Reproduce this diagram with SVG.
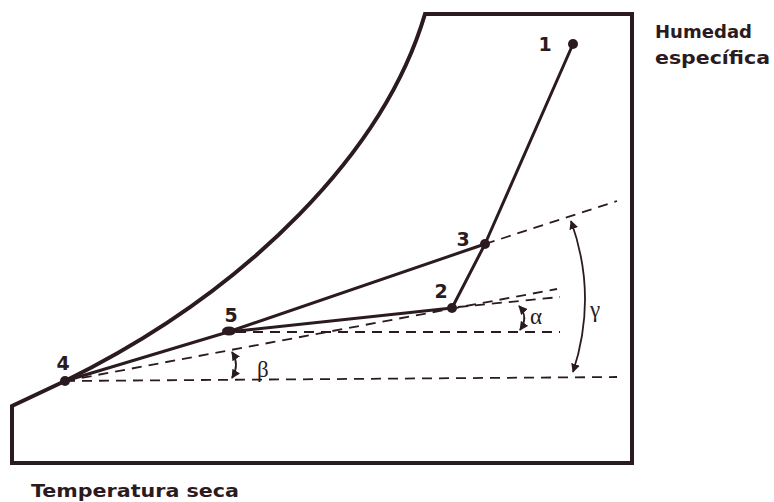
<svg xmlns="http://www.w3.org/2000/svg" width="774" height="502" viewBox="0 0 774 502">
<style>
.frame{fill:none;stroke:#2b1b20;stroke-width:4;stroke-linejoin:miter}
.line{fill:none;stroke:#2b1b20;stroke-width:3;stroke-linecap:round}
.dash{fill:none;stroke:#2b1b20;stroke-width:1.8;stroke-dasharray:10 7}
.arc{fill:none;stroke:#2b1b20;stroke-width:1.8}
.dot{fill:#2b1b20}
.num{font-family:"DejaVu Sans","Liberation Sans",sans-serif;font-weight:bold;font-size:19px;fill:#2b1b20;text-anchor:middle}
.lbl{font-family:"DejaVu Sans","Liberation Sans",sans-serif;font-weight:bold;font-size:18px;fill:#2b1b20}
.greek{font-family:"Liberation Serif","DejaVu Serif",serif;font-size:23px;fill:#2b1b20}
</style>
<defs>
<marker id="ah" viewBox="0 0 10 10" refX="9" refY="5" markerWidth="9" markerHeight="9" markerUnits="userSpaceOnUse" orient="auto-start-reverse">
<path d="M0,0 L10,5 L0,10 Z" fill="#2b1b20"/>
</marker>
</defs>
<g id="chart-frame">
<path class="frame" d="M65,381 L12,406 L12,463 L632,463 L632,14 L425,14 C385,150 250,290 65,381"/>
</g>
<g id="connectors">
<line class="line" x1="65" y1="381" x2="228" y2="332"/>
<line class="line" x1="228" y1="332" x2="485" y2="244"/>
<line class="line" x1="228" y1="332" x2="452" y2="308"/>
<line class="line" x1="452" y1="308" x2="485" y2="244"/>
<line class="line" x1="485" y1="244" x2="573" y2="44"/>
<line class="dash" x1="485" y1="244" x2="617" y2="201"/>
<line class="dash" x1="65" y1="381" x2="617" y2="377"/>
<line class="dash" x1="65" y1="381" x2="557" y2="289"/>
<line class="dash" x1="236" y1="332" x2="560" y2="332"/>
<line class="dash" x1="458" y1="307" x2="560" y2="297"/>
<path class="arc" d="M571,221 Q598,296 573,372" marker-start="url(#ah)" marker-end="url(#ah)"/>
<path class="arc" d="M519,306 Q529,317 520,330" marker-start="url(#ah)" marker-end="url(#ah)"/>
<path class="arc" d="M232,352 Q240,365 232,378" marker-start="url(#ah)" marker-end="url(#ah)"/>
</g>
<g id="node-1"><circle class="dot" cx="573" cy="44" r="5"/><text class="num" x="545" y="51">1</text></g>
<g id="node-2"><circle class="dot" cx="452" cy="308" r="5"/><text class="num" x="441" y="298">2</text></g>
<g id="node-3"><circle class="dot" cx="485" cy="244" r="5"/><text class="num" x="463" y="246">3</text></g>
<g id="node-4"><circle class="dot" cx="65" cy="381" r="5"/><text class="num" x="63" y="370">4</text></g>
<g id="node-5"><ellipse class="dot" cx="229" cy="331" rx="7" ry="4.5"/><text class="num" x="231" y="322">5</text></g>
<g id="angles">
<text class="greek" x="530" y="324">α</text>
<text class="greek" x="257" y="377">β</text>
<text class="greek" x="590" y="317">γ</text>
</g>
<g id="axis-labels">
<text class="lbl" x="655" y="38" textLength="97" lengthAdjust="spacingAndGlyphs">Humedad</text>
<text class="lbl" x="655" y="64" textLength="115" lengthAdjust="spacingAndGlyphs">específica</text>
<text class="lbl" x="31" y="497" font-size="20" textLength="208" lengthAdjust="spacingAndGlyphs">Temperatura seca</text>
</g>
</svg>
